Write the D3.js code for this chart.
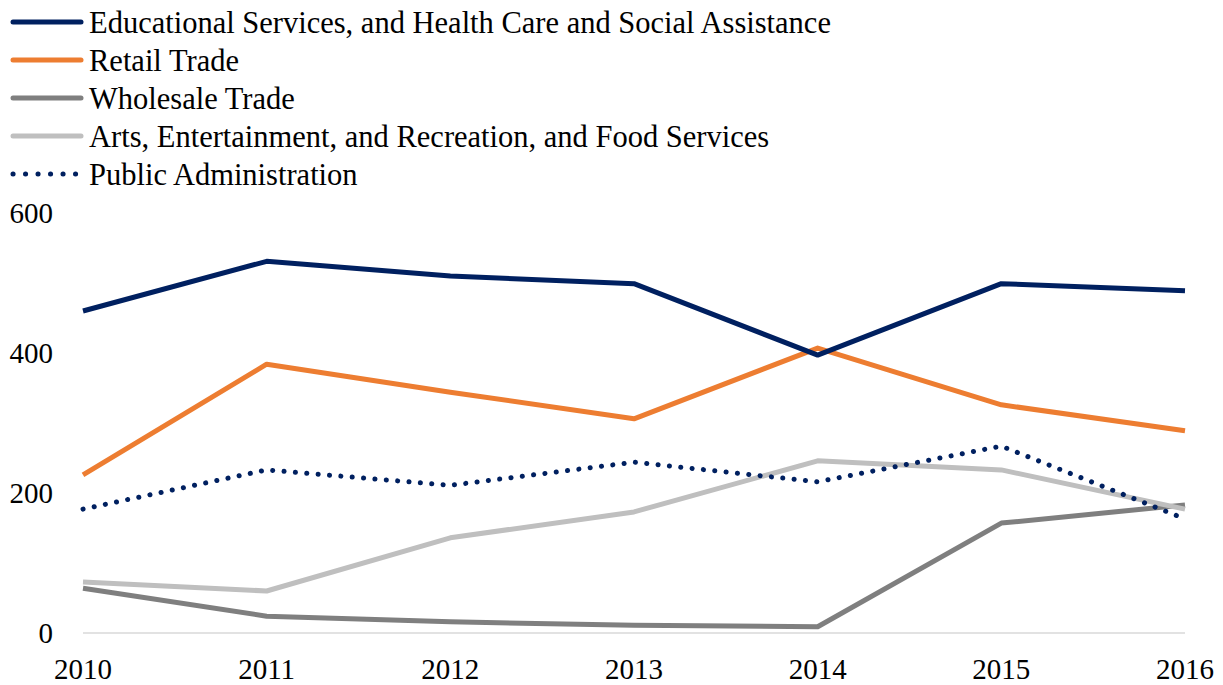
<!DOCTYPE html>
<html><head><meta charset="utf-8">
<script src="https://cdn.jsdelivr.net/npm/d3@7"></script>
<style>body{margin:0;background:#fff}svg{display:block}</style>
</head><body><svg id="c" width="1223" height="685"></svg>
<script>
const FONT = "'Liberation Serif', 'Times New Roman', Times, 'DejaVu Serif', serif";
const years = [2010, 2011, 2012, 2013, 2014, 2015, 2016];
const educational = [460, 531, 510, 499, 397, 499, 489];
const retail = [226, 384, 344, 306, 407, 326, 289];
const wholesale = [64, 24, 16, 11, 9, 157, 183];
const arts = [73, 60, 136, 173, 246, 233, 177];
const publicAdmin = [177, 233, 211, 244, 216, 267, 163];
const yTicks = [0, 200, 400, 600];
const seriesNames = ["Educational Services, and Health Care and Social Assistance","Retail Trade","Wholesale Trade","Arts, Entertainment, and Recreation, and Food Services","Public Administration"];

const series = [
  {name: seriesNames[0], values: educational, color: "#002060", dotted: false},
  {name: seriesNames[1], values: retail, color: "#ED7D31", dotted: false},
  {name: seriesNames[2], values: wholesale, color: "#7F7F7F", dotted: false},
  {name: seriesNames[3], values: arts, color: "#BFBFBF", dotted: false},
  {name: seriesNames[4], values: publicAdmin, color: "#002060", dotted: true}
];

const svg = d3.select("#c");
const x = d3.scalePoint().domain(years).range([83, 1185]);
const y = d3.scaleLinear().domain([0, 600]).range([633, 213]);

svg.append("line").attr("x1", 83).attr("x2", 1185).attr("y1", y(0)).attr("y2", y(0))
  .attr("stroke", "#d9d9d9").attr("stroke-width", 1.5);

svg.append("g").selectAll("text").data(yTicks).join("text")
  .attr("x", 53).attr("y", d => y(d)).attr("dy", "0.35em")
  .attr("text-anchor", "end").attr("font-size", 29).attr("font-family", FONT).text(d => d);

svg.append("g").selectAll("text").data(years).join("text")
  .attr("x", d => x(d)).attr("y", 679)
  .attr("text-anchor", "middle").attr("font-size", 29).attr("font-family", FONT).text(d => d);

const line = d3.line().x((d, i) => x(years[i])).y(d => y(d));

const order = [2, 3, 1, 4, 0];
order.forEach(k => {
  const s = series[k];
  svg.append("path").datum(s.values).attr("d", line)
    .attr("fill", "none").attr("stroke", s.color).attr("stroke-width", 5)
    .attr("stroke-linejoin", "round")
    .attr("stroke-linecap", s.dotted ? "round" : "butt")
    .attr("stroke-dasharray", s.dotted ? "0.1 11.3" : null);
});

const lg = svg.append("g");
series.forEach((s, i) => {
  const cy = 22 + i * 38;
  lg.append("line").attr("x1", 13).attr("x2", s.dotted ? 76 : 81).attr("y1", cy).attr("y2", cy)
    .attr("stroke", s.color).attr("stroke-width", 5)
    .attr("stroke-linecap", "round")
    .attr("stroke-dasharray", s.dotted ? "0.1 12.4" : null);
  lg.append("text").attr("x", 89).attr("y", cy).attr("dy", "0.35em")
    .attr("font-size", 30.5).attr("font-family", FONT).attr("fill", "#000").text(s.name);
});
</script></body></html>
